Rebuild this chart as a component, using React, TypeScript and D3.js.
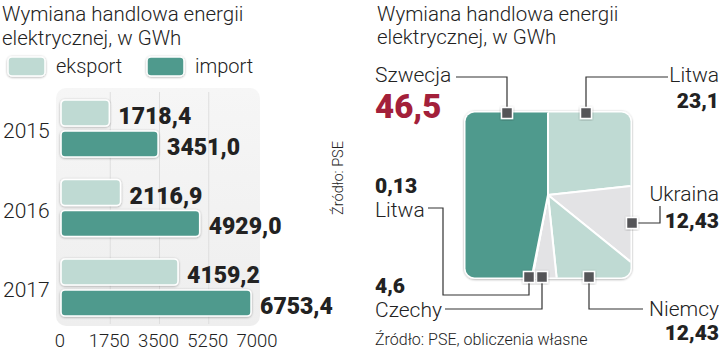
import React from "react";
import * as d3 from "d3";

const years = ["2015", "2016", "2017"];
const eksport = [1718.4, 2116.9, 4159.2];
const importVals = [3451.0, 4929.0, 6753.4];
const xTicks = [0, 1750, 3500, 5250, 7000];
const seriesNames = ["eksport", "import"];

const countries = ["Litwa", "Ukraina", "Niemcy", "Czechy", "Litwa", "Szwecja"];
const shares = [23.1, 12.43, 12.43, 4.6, 0.13, 46.5];
const sliceTone = ["light", "gray", "light", "gray", "gray", "dark"];

const DARK = "#4f9a8d";
const LIGHT = "#bfdad3";
const GRAY = "#e3e3e5";
const RED = "#a3203a";
const TXT = "#222";
const LIGHTFONT = "Roboto, 'Open Sans', sans-serif";
const BOLDFONT = "Roboto, 'Liberation Sans', sans-serif";

const toneColor: Record<string, string> = { light: LIGHT, gray: GRAY, dark: DARK };

// annotation layout for pie labels (per slice index)
const pieLayout = [
  { marker: [586, 113], path: [[586, 113], [586, 77], [668, 77]], name: [719, 82, "end"], val: [719, 108, "end"], size: 21 },
  { marker: [632, 223], path: [[632, 223], [660, 223], [660, 206]], name: [719, 201, "end"], val: [719, 228, "end"], size: 21 },
  { marker: [589, 277], path: [[589, 277], [589, 309], [643, 309]], name: [719, 316, "end"], val: [719, 340, "end"], size: 21 },
  { marker: [542, 277], path: [[542, 277], [542, 309], [445, 309]], name: [375, 317, "start"], val: [375, 293, "start"], size: 21 },
  { marker: [529, 277], path: [[529, 277], [529, 295], [443, 295], [443, 208], [428, 208]], name: [375, 217, "start"], val: [375, 193, "start"], size: 21 },
  { marker: [507, 113], path: [[507, 113], [507, 77], [456, 77]], name: [375, 82, "start"], val: [375, 118, "start"], size: 33 },
];

const fmt1 = (v: number) => d3.format(".1f")(v).replace(".", ",");
const fmtShare = (v: number) => String(v).replace(".", ",");

export default function App() {
  const x = d3.scaleLinear().domain([0, 7000]).range([61, 258]);
  const y = d3.scaleBand().domain(years).range([88.75, 327.25]).paddingInner(0.283).paddingOuter(0.1415);
  const yInner = d3.scaleBand().domain(seriesNames).range([0, y.bandwidth()]).paddingInner(0.16);

  const rows = years.map((yr, i) => ({ yr, eksport: eksport[i], import: importVals[i] }));

  // square pie
  const sq = { x0: 464, y0: 111, x1: 632, y1: 279 };
  const cx = (sq.x0 + sq.x1) / 2;
  const cy = (sq.y0 + sq.y1) / 2;
  const pie = d3.pie<number>().sort(null).value((d) => d)(shares);
  const arc = d3.arc<d3.PieArcDatum<number>>().innerRadius(0).outerRadius(200);
  const line = d3.line();

  return (
    <svg width={720} height={352} style={{ position: "absolute", left: 0, top: 0, background: "#fff" }}>
      <defs>
        <filter id="sh" x="-20%" y="-20%" width="140%" height="140%">
          <feDropShadow dx="0" dy="0.6" stdDeviation="0.9" floodColor="#000" floodOpacity="0.35" />
        </filter>
        <clipPath id="sqclip">
          <rect x={sq.x0 + 1.5} y={sq.y0 + 1.5} width={sq.x1 - sq.x0 - 3} height={sq.y1 - sq.y0 - 3} rx={9} />
        </clipPath>
        <linearGradient id="bgGrad" x1="0" x2="0" y1="0" y2="1">
          <stop offset="0" stopColor="#f6f6f6" />
          <stop offset="1" stopColor="#eeeeee" />
        </linearGradient>
      </defs>

      {/* LEFT CHART */}
      <g fontFamily={LIGHTFONT} fontWeight={300} fill={TXT}>
        <text x={2} y={21} fontSize={20.5}>Wymiana handlowa energii</text>
        <text x={2} y={45} fontSize={20.5}>elektrycznej, w GWh</text>
        {seriesNames.map((s, i) => {
          const sx = i === 0 ? 8 : 147;
          return (
            <g key={s}>
              <rect x={sx} y={57} width={37} height={19} rx={4} fill={i === 0 ? LIGHT : DARK} stroke="#fff" strokeWidth={1.5} filter="url(#sh)" />
              <text x={sx + 48} y={73} fontSize={20}>{s}</text>
            </g>
          );
        })}
      </g>

      <rect x={56} y={88} width={204} height={238} rx={10} fill="url(#bgGrad)" />
      {xTicks.slice(1, -1).map((t) => (
        <line key={t} x1={x(t)} x2={x(t)} y1={92} y2={324} stroke="#dedede" strokeWidth={1} />
      ))}

      {rows.map((r) => (
        <g key={r.yr} transform={`translate(0,${y(r.yr)})`}>
          {seriesNames.map((s) => {
            const v = (r as any)[s] as number;
            const by = yInner(s)!;
            const bh = yInner.bandwidth();
            return (
              <g key={s}>
                <rect x={x(0)} y={by} width={x(v) - x(0)} height={bh} rx={4} fill={s === "eksport" ? LIGHT : DARK} stroke="#fff" strokeWidth={1.6} filter="url(#sh)" />
                <text x={x(v) + 9} y={by + bh - 2} fontFamily={BOLDFONT} fontWeight={900} fontSize={23} fill={TXT}>{fmt1(v)}</text>
              </g>
            );
          })}
          <text x={3} y={y.bandwidth() / 2 + 10} fontFamily={LIGHTFONT} fontWeight={300} fontSize={21} fill={TXT}>{r.yr}</text>
        </g>
      ))}

      {xTicks.map((t) => (
        <text key={t} x={x(t) - 1} y={347} textAnchor="middle" fontFamily={LIGHTFONT} fontWeight={300} fontSize={18.5} fill={TXT}>{t}</text>
      ))}

      <text transform="translate(343,178) rotate(-90)" textAnchor="middle" fontFamily={LIGHTFONT} fontWeight={300} fontSize={14.5} fill={TXT}>Źródło: PSE</text>

      {/* RIGHT CHART */}
      <g fontFamily={LIGHTFONT} fontWeight={300} fill={TXT}>
        <text x={377} y={21} fontSize={20.5}>Wymiana handlowa energii</text>
        <text x={377} y={44} fontSize={20.5}>elektrycznej, w GWh</text>
        <text x={375} y={345} fontSize={16}>Źródło: PSE, obliczenia własne</text>
      </g>

      <rect x={sq.x0} y={sq.y0} width={sq.x1 - sq.x0} height={sq.y1 - sq.y0} rx={11} fill="#fff" filter="url(#sh)" />
      <g clipPath="url(#sqclip)">
        <g transform={`translate(${cx},${cy})`}>
          {pie.map((p, i) => (
            <path key={i} d={arc(p) || ""} fill={toneColor[sliceTone[i]]} stroke="#fff" strokeWidth={2} />
          ))}
        </g>
      </g>

      {pieLayout.map((l, i) => (
        <g key={i}>
          <path d={line(l.path as [number, number][]) || ""} fill="none" stroke="#333" strokeWidth={1.2} />
        </g>
      ))}
      {pieLayout.map((l, i) => (
        <rect key={i} x={l.marker[0] - 5.5} y={l.marker[1] - 5.5} width={11} height={11} fill="#545458" stroke="#fff" strokeWidth={1.5} filter="url(#sh)" />
      ))}
      {pieLayout.map((l, i) => (
        <g key={i}>
          <text x={l.name[0] as number} y={l.name[1] as number} textAnchor={l.name[2] as any} fontFamily={LIGHTFONT} fontWeight={300} fontSize={21} fill={TXT}>{countries[i]}</text>
          <text x={l.val[0] as number} y={l.val[1] as number} textAnchor={l.val[2] as any} fontFamily={BOLDFONT} fontWeight={900} fontSize={l.size} fill={i === 5 ? RED : TXT}>{fmtShare(shares[i])}</text>
        </g>
      ))}
    </svg>
  );
}
